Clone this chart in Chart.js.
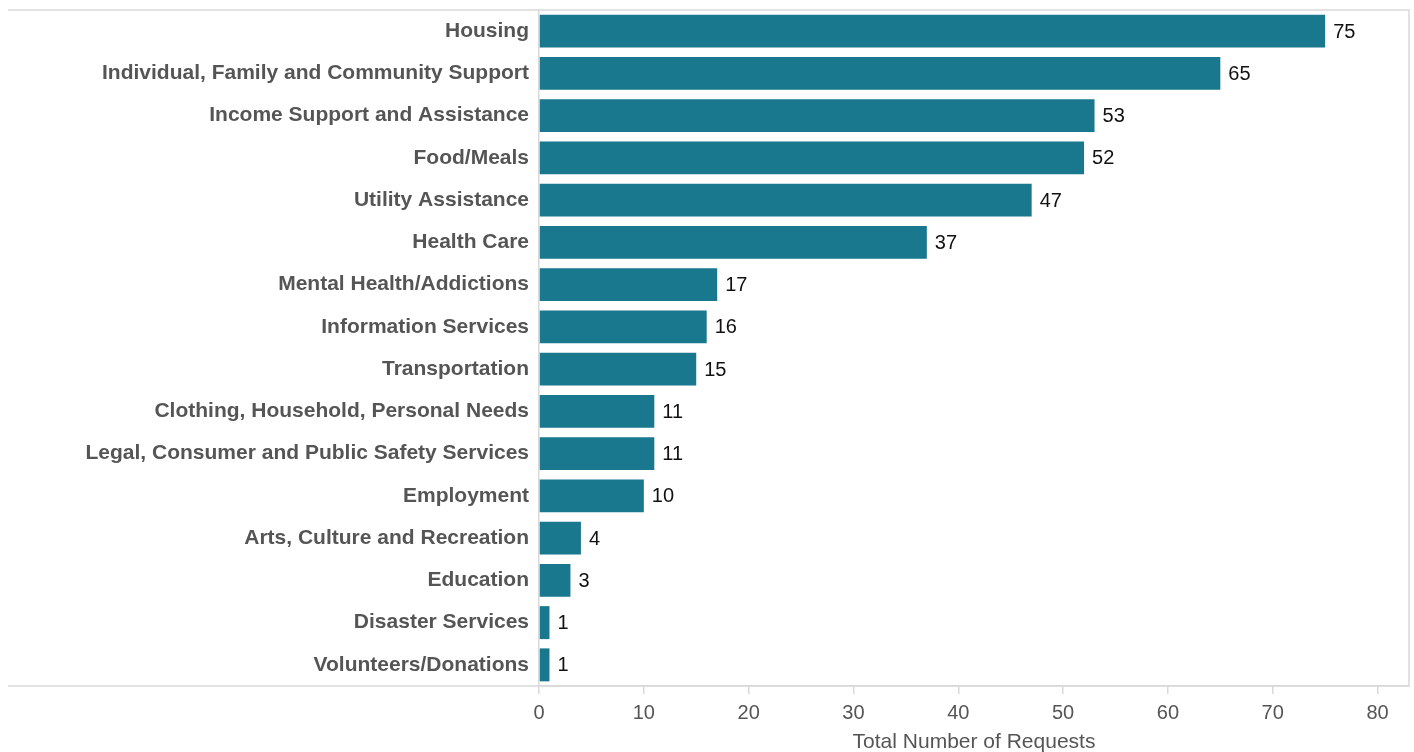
<!DOCTYPE html>
<html>
<head>
<meta charset="utf-8">
<script src="https://cdn.jsdelivr.net/npm/chart.js@4"></script>
<style>
    html, body { margin: 0; padding: 0; background: #fff; }
    #wrap { width: 1414px; height: 752px; }
</style>
</head>
<body>
<div id="wrap"><canvas id="requestsChart"></canvas></div>
<script>
const categories = [
    'Housing',
    'Individual, Family and Community Support',
    'Income Support and Assistance',
    'Food/Meals',
    'Utility Assistance',
    'Health Care',
    'Mental Health/Addictions',
    'Information Services',
    'Transportation',
    'Clothing, Household, Personal Needs',
    'Legal, Consumer and Public Safety Services',
    'Employment',
    'Arts, Culture and Recreation',
    'Education',
    'Disaster Services',
    'Volunteers/Donations'
];
const requestCounts = [75, 65, 53, 52, 47, 37, 17, 16, 15, 11, 11, 10, 4, 3, 1, 1];
const xTicks = [0, 10, 20, 30, 40, 50, 60, 70, 80];
const axisTitle = 'Total Number of Requests';

const lineColor = '#d9d9d9';

// value labels at the end of each bar
const valueLabels = {
    id: 'valueLabels',
    afterDatasetsDraw(chart) {
        const ctx = chart.ctx;
        const meta = chart.getDatasetMeta(0);
        ctx.save();
        ctx.font = '20px "Liberation Sans", Arial, sans-serif';
        ctx.fillStyle = '#111';
        ctx.textAlign = 'left';
        ctx.textBaseline = 'middle';
        meta.data.forEach((bar, i) => {
            ctx.fillText(String(requestCounts[i]), bar.x + 8, bar.y + 1);
        });
        ctx.restore();
    }
};

// frame lines that run across the label column too
const frameLines = {
    id: 'frameLines',
    afterDraw(chart) {
        const { ctx, chartArea } = chart;
        ctx.save();
        ctx.strokeStyle = lineColor;
        ctx.lineWidth = 1.5;
        ctx.beginPath();
        ctx.moveTo(8, chartArea.top);
        ctx.lineTo(chartArea.right, chartArea.top);
        ctx.lineTo(chartArea.right, chartArea.bottom);
        ctx.lineTo(8, chartArea.bottom);
        ctx.stroke();
        ctx.restore();
    }
};

new Chart(document.getElementById('requestsChart'), {
    type: 'bar',
    data: {
        labels: categories,
        datasets: [{
            data: requestCounts,
            backgroundColor: '#19778e',
            barPercentage: 0.78,
            categoryPercentage: 1.0
        }]
    },
    options: {
        indexAxis: 'y',
        responsive: true,
        maintainAspectRatio: false,
        animation: false,
        layout: { padding: { top: 10, right: 5, left: 0, bottom: 0 } },
        plugins: {
            legend: { display: false },
            tooltip: { enabled: false }
        },
        scales: {
            x: {
                min: 0,
                max: 83,
                afterBuildTicks(scale) {
                    scale.ticks = xTicks.map(v => ({ value: v }));
                },
                afterFit(scale) { scale.height = 66; },
                grid: {
                    display: true,
                    drawOnChartArea: false,
                    drawTicks: true,
                    tickLength: 8,
                    color: lineColor,
                    lineWidth: 1.5
                },
                border: { display: true, color: lineColor, width: 1.5 },
                ticks: {
                    color: '#555',
                    padding: 7,
                    font: { family: '"Liberation Sans", Arial, sans-serif', size: 20 }
                },
                title: {
                    display: true,
                    text: axisTitle,
                    color: '#555',
                    padding: { top: 0, bottom: -3 },
                    font: { family: '"Liberation Sans", Arial, sans-serif', size: 21 }
                }
            },
            y: {
                afterFit(scale) {
                    scale.width = 539;
                    scale.paddingTop = 0;
                    scale.paddingBottom = 0;
                },
                grid: { display: false },
                border: { display: true, color: lineColor, width: 1.5 },
                ticks: {
                    color: '#555',
                    padding: 2,
                    autoSkip: false,
                    font: { family: '"Liberation Sans", Arial, sans-serif', size: 21, weight: 'bold' }
                }
            }
        }
    },
    plugins: [valueLabels, frameLines]
});
</script>
</body>
</html>
